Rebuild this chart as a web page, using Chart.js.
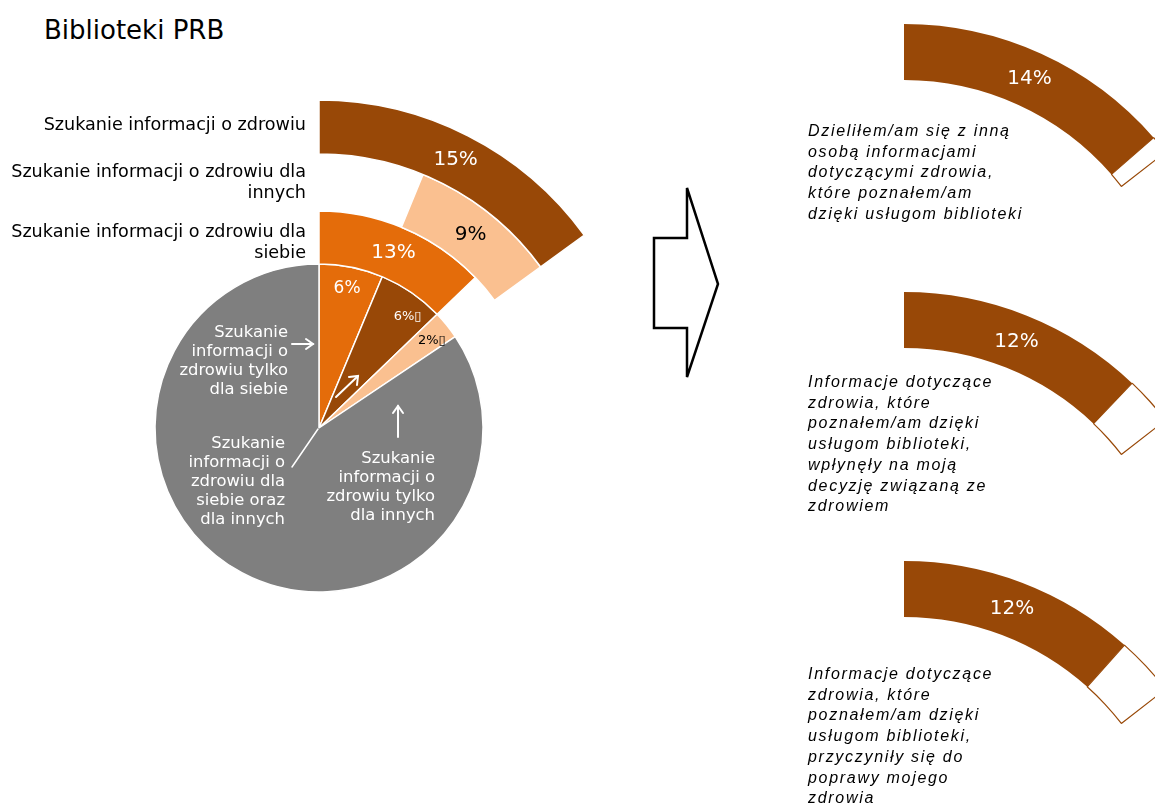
<!DOCTYPE html>
<html lang="pl">
<head>
<meta charset="utf-8">
<title>Biblioteki PRB</title>
<script src="https://cdn.jsdelivr.net/npm/chart.js@4.4.1/dist/chart.umd.min.js"></script>
<style>
  html, body { margin: 0; padding: 0; background: #fff; }
  body { width: 1155px; height: 807px; overflow: hidden; position: relative; font-family: 'DejaVu Sans', Verdana, sans-serif; }
  canvas { position: absolute; }
  .tekst { position: absolute; white-space: nowrap; z-index: 2; }
  .tytul { left: 44px; top: 15px; font-size: 26px; line-height: 30px; color: #000; }
  .opis { font-size: 17.6px; line-height: 21px; color: #000; text-align: right; right: 849px; }
  .wkolo { font-size: 16.4px; line-height: 19px; color: #fff; text-align: right; }
  .efekt { left: 808px; font-family: 'Liberation Sans', Arial, sans-serif; font-style: italic; font-size: 16px; line-height: 20.7px; letter-spacing: 1.7px; color: #000; }
  svg { position: absolute; left: 0; top: 0; z-index: 3; }
</style>
</head>
<body>

<div class="tekst tytul">Biblioteki PRB</div>
<div class="tekst opis" style="top:114px">Szukanie informacji o zdrowiu</div>
<div class="tekst opis" style="top:161px">Szukanie informacji o zdrowiu dla<br>innych</div>
<div class="tekst opis" style="top:221px">Szukanie informacji o zdrowiu dla<br>siebie</div>

<div class="tekst wkolo" style="right:867px; top:322px">Szukanie<br>informacji o<br>zdrowiu tylko<br>dla siebie</div>
<div class="tekst wkolo" style="right:870px; top:433px">Szukanie<br>informacji o<br>zdrowiu dla<br>siebie oraz<br>dla innych</div>
<div class="tekst wkolo" style="right:720px; top:448px">Szukanie<br>informacji o<br>zdrowiu tylko<br>dla innych</div>

<div class="tekst efekt" style="top:121px">Dzieliłem/am się z inną<br>osobą informacjami<br>dotyczącymi zdrowia,<br>które poznałem/am<br>dzięki usługom biblioteki</div>
<div class="tekst efekt" style="top:372px">Informacje dotyczące<br>zdrowia, które<br>poznałem/am dzięki<br>usługom biblioteki,<br>wpłynęły na moją<br>decyzję związaną ze<br>zdrowiem</div>
<div class="tekst efekt" style="top:664px">Informacje dotyczące<br>zdrowia, które<br>poznałem/am dzięki<br>usługom biblioteki,<br>przyczyniły się do<br>poprawy mojego<br>zdrowia</div>

<canvas id="wykresLewy" width="638" height="656" style="left:0; top:100px"></canvas>
<canvas id="efekt1" width="662" height="662" style="left:573px; top:24px"></canvas>
<canvas id="efekt2" width="662" height="662" style="left:573px; top:292px"></canvas>
<canvas id="efekt3" width="662" height="662" style="left:573px; top:561px"></canvas>

<svg width="1155" height="807">
  <polygon points="687,188 687,238 654,238 654,328 687,328 687,377 718,284" fill="#fff" stroke="#000" stroke-width="2.5" stroke-linejoin="miter"/>
  <g stroke="#fff" stroke-width="2" fill="none" stroke-linecap="round">
    <line x1="292" y1="344" x2="313" y2="344"/>
    <polyline points="306,339 313,344 306,349"/>
    <line x1="398" y1="437" x2="398" y2="406"/>
    <polyline points="393,413 398,406 403,413"/>
    <line x1="336" y1="397" x2="358" y2="376"/>
    <polyline points="349,377 358,376 357,385"/>
    <line x1="292" y1="467" x2="318" y2="429" stroke-width="1.5"/>
  </g>
</svg>

<script>
const BRAZ = '#984807';
const POMARANCZ = '#E46C0A';
const BRZOSKWINIA = '#FAC090';
const SZARY = '#7F7F7F';
const PUSTE = 'rgba(0,0,0,0)';

// koło: udział w całości (%), od godz. 12 zgodnie z ruchem wskazówek
const kategorieKolo = ['Tylko dla siebie', 'Dla siebie oraz dla innych', 'Tylko dla innych', 'Pozostali'];
const wartosciKolo = [6.3, 6.5, 2.8, 84.4];
const etykietyKolo = ['6%', '6%\u25AF', '2%\u25AF', ''];

// pierścienie
const wartosciZdrowie = [15, 85];          // Szukanie informacji o zdrowiu
const wartosciDlaInnych = [6.2, 8.8, 85];  // ... dla innych (pierwsza część pusta)
const wartosciDlaSiebie = [12.8, 87.2];    // ... dla siebie
const etykietyZdrowie = ['15%', ''];
const etykietyDlaInnych = ['', '9%', ''];
const etykietyDlaSiebie = ['13%', ''];

// efekty (wypełnione, obramowane, reszta)
const wartosciEfekt1 = [13.6, 0.9, 85.5];
const wartosciEfekt2 = [12.1, 2.4, 85.5];
const wartosciEfekt3 = [11.6, 2.9, 85.5];
const etykietyEfekt1 = ['14%', '', ''];
const etykietyEfekt2 = ['12%', '', ''];
const etykietyEfekt3 = ['12%', '', ''];

// rysuje etykiety procentowe w środku łuków
const etykietyPlugin = {
    id: 'etykiety',
    afterDatasetsDraw(chart) {
        const ctx = chart.ctx;
        chart.data.datasets.forEach((ds, i) => {
            if (!ds.etykiety) return;
            const meta = chart.getDatasetMeta(i);
            meta.data.forEach((arc, j) => {
                const tekst = ds.etykiety[j];
                if (!tekst) return;
                const p = arc.getProps(['x', 'y', 'startAngle', 'endAngle', 'innerRadius', 'outerRadius'], true);
                const kat = (p.startAngle + p.endAngle) / 2 + (ds.przesuniecie ? ds.przesuniecie[j] : 0);
                const r = p.innerRadius + (p.outerRadius - p.innerRadius) * (ds.polozenie || 0.5);
                ctx.save();
                ctx.font = Array.isArray(ds.czcionka) ? ds.czcionka[j] : ds.czcionka;
                ctx.fillStyle = Array.isArray(ds.kolorTekstu) ? ds.kolorTekstu[j] : ds.kolorTekstu;
                ctx.textAlign = 'center';
                ctx.textBaseline = 'middle';
                ctx.fillText(tekst, p.x + Math.cos(kat) * r, p.y + Math.sin(kat) * r);
                ctx.restore();
            });
        });
    }
};

const wspolneOpcje = {
    responsive: false,
    animation: false,
    events: [],
    hoverOffset: 0,
    layout: { padding: 0 },
    plugins: {
        legend: { display: false },
        tooltip: { enabled: false }
    }
};

new Chart(document.getElementById('wykresLewy').getContext('2d'), {
    type: 'pie',
    data: {
        labels: kategorieKolo,
        datasets: [
            {
                data: wartosciZdrowie,
                backgroundColor: [BRAZ, PUSTE],
                borderColor: '#fff',
                borderWidth: [1.5, 0],
                weight: 54,
                etykiety: etykietyZdrowie,
                czcionka: '20px "DejaVu Sans"',
                kolorTekstu: '#fff'
            },
            {
                data: wartosciDlaInnych,
                backgroundColor: [PUSTE, BRZOSKWINIA, PUSTE],
                borderColor: '#fff',
                borderWidth: [0, 1.5, 0],
                weight: 57,
                etykiety: etykietyDlaInnych,
                czcionka: '20px "DejaVu Sans"',
                kolorTekstu: '#000'
            },
            {
                data: wartosciDlaSiebie,
                backgroundColor: [POMARANCZ, PUSTE],
                borderColor: '#fff',
                borderWidth: [1.5, 0],
                weight: 53,
                etykiety: etykietyDlaSiebie,
                czcionka: '20px "DejaVu Sans"',
                kolorTekstu: '#fff'
            },
            {
                data: wartosciKolo,
                backgroundColor: [POMARANCZ, BRAZ, BRZOSKWINIA, SZARY],
                borderColor: '#fff',
                borderWidth: 1.5,
                weight: 164,
                etykiety: etykietyKolo,
                polozenie: 0.87,
                przesuniecie: [0, 0.07, 0.02, 0],
                czcionka: ['17px "DejaVu Sans"', '13px "DejaVu Sans"', '13px "DejaVu Sans"', ''],
                kolorTekstu: ['#fff', '#fff', '#000', '#fff']
            }
        ]
    },
    options: Object.assign({}, wspolneOpcje, { radius: 328 }),
    plugins: [etykietyPlugin]
});

function rysujEfekt(id, wartosci, etykiety) {
    new Chart(document.getElementById(id).getContext('2d'), {
        type: 'doughnut',
        data: {
            labels: ['Tak', 'Razem', ''],
            datasets: [{
                data: wartosci,
                backgroundColor: [BRAZ, '#fff', PUSTE],
                borderColor: [BRAZ, BRAZ, PUSTE],
                borderWidth: [0, 1.2, 0],
                etykiety: etykiety,
                czcionka: '20px "DejaVu Sans"',
                kolorTekstu: '#fff'
            }]
        },
        options: Object.assign({}, wspolneOpcje, { radius: 331, cutout: '83.1%' }),
        plugins: [etykietyPlugin]
    });
}

rysujEfekt('efekt1', wartosciEfekt1, etykietyEfekt1);
rysujEfekt('efekt2', wartosciEfekt2, etykietyEfekt2);
rysujEfekt('efekt3', wartosciEfekt3, etykietyEfekt3);
</script>
</body>
</html>
